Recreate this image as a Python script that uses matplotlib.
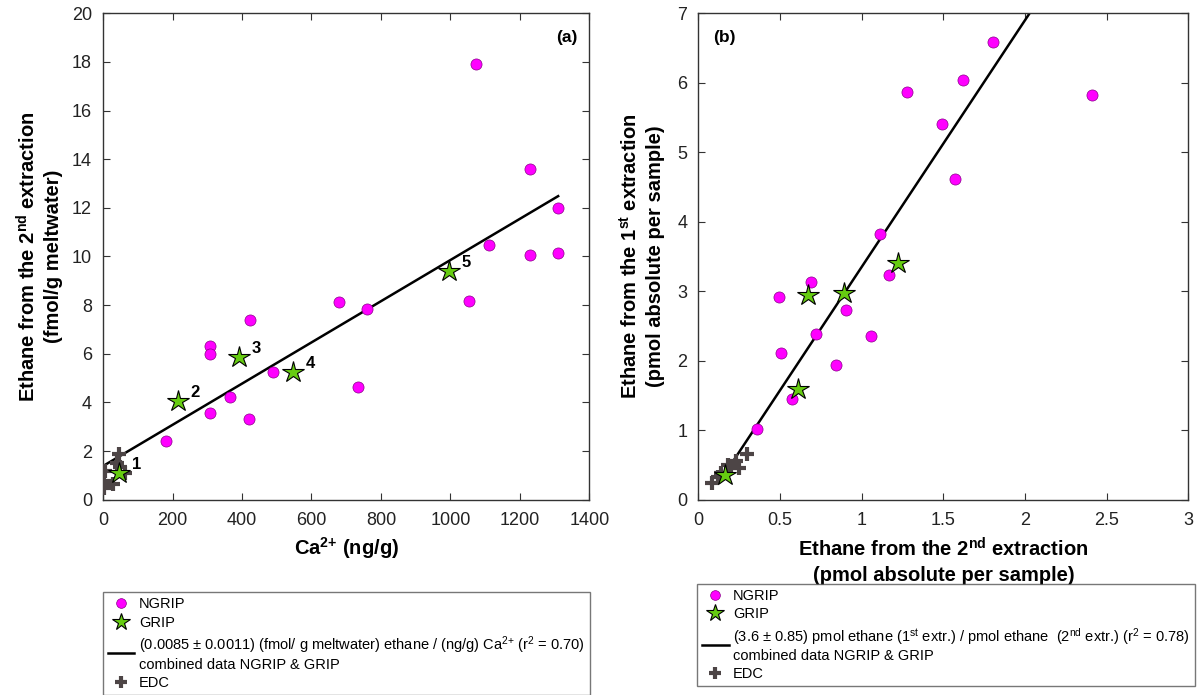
import matplotlib
matplotlib.use("Agg")
import matplotlib.pyplot as plt
from matplotlib.lines import Line2D

plt.rcParams['font.family'] = ['Liberation Sans', 'DejaVu Sans']
plt.rcParams['mathtext.fontset'] = 'custom'
plt.rcParams['mathtext.rm'] = 'Liberation Sans'
plt.rcParams['mathtext.it'] = 'Liberation Sans:italic'
plt.rcParams['mathtext.bf'] = 'Liberation Sans:bold'

# panel (a): Ca2+ vs ethane 2nd extraction
ngrip_a_x = [1073, 1229, 1310, 1110, 1229, 1310, 1054, 679, 761, 423, 307, 307, 490, 733, 366, 307, 419, 180]
ngrip_a_y = [17.92, 13.6, 11.98, 10.47, 10.05, 10.15, 8.18, 8.14, 7.82, 7.40, 6.32, 5.98, 5.27, 4.65, 4.24, 3.58, 3.30, 2.41]
grip_a_x = [47, 216, 392, 547, 996]
grip_a_y = [1.08, 4.04, 5.87, 5.24, 9.41]
grip_a_lbl = ['1', '2', '3', '4', '5']
edc_a_x = [47, 40, 50, 5, 62, 3, 28, 3]
edc_a_y = [1.87, 1.50, 1.35, 1.20, 1.08, 0.75, 0.66, 0.48]
fit_a_x = [2, 1310]
fit_a_y = [1.40, 12.48]

# panel (b): ethane 2nd vs 1st extraction
ngrip_b_x = [1.804, 1.619, 1.274, 2.407, 1.494, 1.569, 1.112, 1.166, 0.690, 0.495, 0.903, 0.718, 1.056, 0.504, 0.842, 0.570, 0.361]
ngrip_b_y = [6.58, 6.04, 5.87, 5.82, 5.41, 4.62, 3.83, 3.24, 3.13, 2.92, 2.73, 2.39, 2.35, 2.11, 1.94, 1.45, 1.02]
grip_b_x = [1.222, 0.891, 0.669, 0.610, 0.164]
grip_b_y = [3.40, 2.98, 2.94, 1.59, 0.36]
edc_b_x = [0.08, 0.12, 0.14, 0.18, 0.20, 0.23, 0.25, 0.30]
edc_b_y = [0.24, 0.33, 0.38, 0.50, 0.45, 0.55, 0.46, 0.66]
fit_b_x = [0.19, 2.10]
fit_b_y = [0.475, 7.256]

magenta = '#ff00ff'
green = '#66cc11'
edc_col = '#4d4546'

fig = plt.figure(figsize=(11.98, 6.95), dpi=100)
ax1 = fig.add_axes([0.086, 0.281, 0.406, 0.700])
ax2 = fig.add_axes([0.583, 0.281, 0.409, 0.700])


def style_axis(ax):
    ax.tick_params(direction='in', top=True, right=True, labelsize=13, length=5,
                   color='#333333', labelcolor='#222222')
    ax.tick_params(axis='x', pad=9)
    ax.tick_params(axis='y', pad=8)
    for s in ax.spines.values():
        s.set_color('#333333')
        s.set_linewidth(1.0)


# (a)
ax1.plot(fit_a_x, fit_a_y, color='black', lw=1.8, zorder=2)
ax1.plot(edc_a_x, edc_a_y, ls='none', marker='+', ms=10, mew=3, color=edc_col, zorder=3)
ax1.plot(ngrip_a_x, ngrip_a_y, ls='none', marker='o', ms=8, mfc=magenta, mec='#880088', mew=0.5, zorder=4)
ax1.plot(grip_a_x, grip_a_y, ls='none', marker='*', ms=16, mfc=green, mec='black', mew=0.8, zorder=5)
for gx, gy, t in zip(grip_a_x, grip_a_y, grip_a_lbl):
    ax1.annotate(t, (gx, gy), xytext=(9, 3), textcoords='offset points',
                 fontsize=12, fontweight='bold')
ax1.set_xlim(0, 1400)
ax1.set_ylim(0, 20)
ax1.set_xticks(range(0, 1401, 200))
ax1.set_yticks(range(0, 21, 2))
ax1.set_xlabel(r'Ca$^{\mathbf{2{+}}}$ (ng/g)', fontsize=14.5, fontweight='bold', labelpad=4)
ax1.set_ylabel('Ethane from the 2$^{\\mathbf{nd}}$ extraction\n(fmol/g meltwater)',
               fontsize=14.5, fontweight='bold', labelpad=6, linespacing=1.35)
ax1.text(0.975, 0.965, '(a)', transform=ax1.transAxes, ha='right', va='top',
         fontsize=12.5, fontweight='bold')
style_axis(ax1)

# (b)
ax2.plot(fit_b_x, fit_b_y, color='black', lw=1.8, zorder=2)
ax2.plot(edc_b_x, edc_b_y, ls='none', marker='+', ms=10, mew=3, color=edc_col, zorder=3)
ax2.plot(ngrip_b_x, ngrip_b_y, ls='none', marker='o', ms=8, mfc=magenta, mec='#880088', mew=0.5, zorder=4)
ax2.plot(grip_b_x, grip_b_y, ls='none', marker='*', ms=16, mfc=green, mec='black', mew=0.8, zorder=5)
ax2.set_xlim(0, 3)
ax2.set_ylim(0, 7)
ax2.set_xticks([0, 0.5, 1, 1.5, 2, 2.5, 3])
ax2.set_xticklabels(['0', '0.5', '1', '1.5', '2', '2.5', '3'])
ax2.set_yticks(range(0, 8))
ax2.set_xlabel('Ethane from the 2$^{\\mathbf{nd}}$ extraction\n(pmol absolute per sample)',
               fontsize=14.5, fontweight='bold', labelpad=6, linespacing=1.35)
ax2.set_ylabel('Ethane from the 1$^{\\mathbf{st}}$ extraction\n(pmol absolute per sample)',
               fontsize=14.5, fontweight='bold', labelpad=9, linespacing=1.35)
ax2.text(0.03, 0.965, '(b)', transform=ax2.transAxes, ha='left', va='top',
         fontsize=12.5, fontweight='bold')
style_axis(ax2)


def make_handles():
    return [
        Line2D([], [], ls='none', marker='o', ms=7, mfc=magenta, mec='#880088', mew=0.5),
        Line2D([], [], ls='none', marker='*', ms=13, mfc=green, mec='black', mew=0.8),
        Line2D([], [], color='black', lw=1.8),
        Line2D([], [], ls='none', marker='+', ms=8, mew=3, color=edc_col),
    ]


labels_a = ['NGRIP', 'GRIP',
            '(0.0085 ± 0.0011) (fmol/ g meltwater) ethane / (ng/g) Ca$^{2{+}}$ (r$^2$ = 0.70)\ncombined data NGRIP & GRIP',
            'EDC']
labels_b = ['NGRIP', 'GRIP',
            '(3.6 ± 0.85) pmol ethane (1$^{\\mathrm{st}}$ extr.) / pmol ethane  (2$^{\\mathrm{nd}}$ extr.) (r$^2$ = 0.78)\ncombined data NGRIP & GRIP',
            'EDC']

for labels, anchor in [(labels_a, (0.086, 0.148)), (labels_b, (0.582, 0.160))]:
    leg = fig.legend(make_handles(), labels, loc='upper left', bbox_to_anchor=anchor,
                     fontsize=10.5, frameon=True, fancybox=False, edgecolor='#555555',
                     handlelength=1.8, handletextpad=0.3, labelspacing=0.3,
                     borderpad=0.35, borderaxespad=0)
    leg.get_frame().set_linewidth(1.0)

fig.savefig('out.png', dpi=100)
